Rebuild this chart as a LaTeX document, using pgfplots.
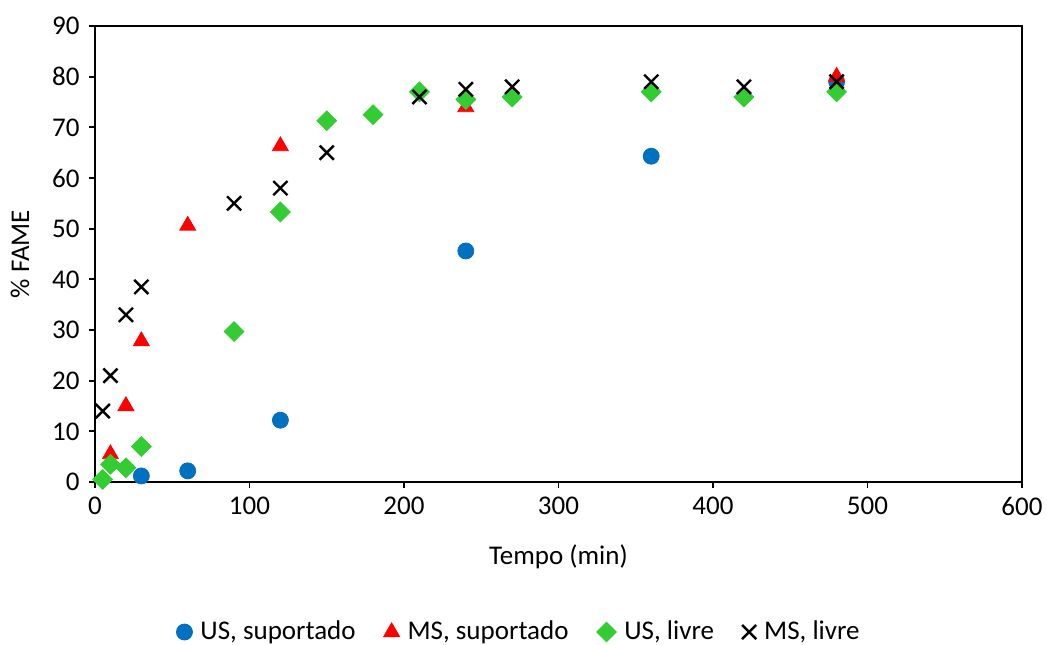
\documentclass[border=0pt]{standalone}
\usepackage{pgfplots}
\pgfplotsset{compat=1.18}
\usepackage{fontspec}
\setmainfont{Carlito}
\definecolor{cblue}{HTML}{0070C0}
\definecolor{cred}{HTML}{FF0000}
\definecolor{cgreen}{HTML}{33CC33}
\begin{document}
\fontsize{13.5}{16}\selectfont
\begin{tikzpicture}
\useasboundingbox (0,0) rectangle (523.5pt,322pt);
\begin{axis}[
  at={(47.5pt,81pt)}, anchor=south west,
  scale only axis, width=463.5pt, height=228pt,
  xmin=0, xmax=600, ymin=0, ymax=90,
  xtick={0,100,...,600}, ytick={0,10,...,90},
  tick align=outside, xtick pos=left, ytick pos=left,
  major tick length=3pt,
  axis line style={line width=0.9pt},
  tick style={line width=0.9pt, black},
  /pgf/number format/assume math mode=true,
  ticklabel style={font=\fontsize{13.5}{16}\selectfont},
  label style={font=\fontsize{13.5}{16}\selectfont},
  xlabel={Tempo (min)}, ylabel={\% FAME},
  xlabel style={at={(0.5,-0.164)}, anchor=center},
  ylabel style={at={(-0.081,0.5)}, anchor=center},
  legend columns=4,
  legend style={draw=none, at={(0.4585,-0.329)}, anchor=center,
    font=\fontsize{13.5}{16}\selectfont, column sep=2pt,
    /tikz/every even column/.append style={column sep=12pt}},
  legend cell align=left,
  legend image code/.code={\draw[mark repeat=2,mark phase=2] plot coordinates {(0cm,0cm) (0.15cm,0cm) (0.3cm,0cm)};},
  only marks,
]
\addplot[mark=*, mark size=4pt, color=cblue, mark options={draw=cblue, fill=cblue}] coordinates {
(30,1.2) (60,2.2) (120,12.2) (240,45.6) (360,64.3) (480,79)};
\addlegendentry{US, suportado}
\addplot[mark=triangle*, mark size=4.6pt, color=cred, mark options={draw=cred, fill=cred}] coordinates {
(10,5.5) (20,15) (30,27.8) (60,50.6) (120,66.3) (240,74) (480,80)};
\addlegendentry{MS, suportado}
\addplot[mark=square*, mark size=3.5pt, color=cgreen, mark options={draw=cgreen, fill=cgreen, rotate=45}] coordinates {
(5,0.5) (10,3.5) (20,2.8) (30,7) (90,29.7) (120,53.3) (150,71.3) (180,72.5) (210,77) (240,75.5) (270,76) (360,77) (420,76) (480,77)};
\addlegendentry{US, livre}
\addplot[mark=x, mark size=5pt, color=black, mark options={line width=1.2pt}] coordinates {
(5,14) (10,21) (20,33) (30,38.5) (90,55) (120,58) (150,65) (210,76) (240,77.5) (270,78) (360,79) (420,78) (480,79)};
\addlegendentry{MS, livre}
\end{axis}
\end{tikzpicture}
\end{document}
